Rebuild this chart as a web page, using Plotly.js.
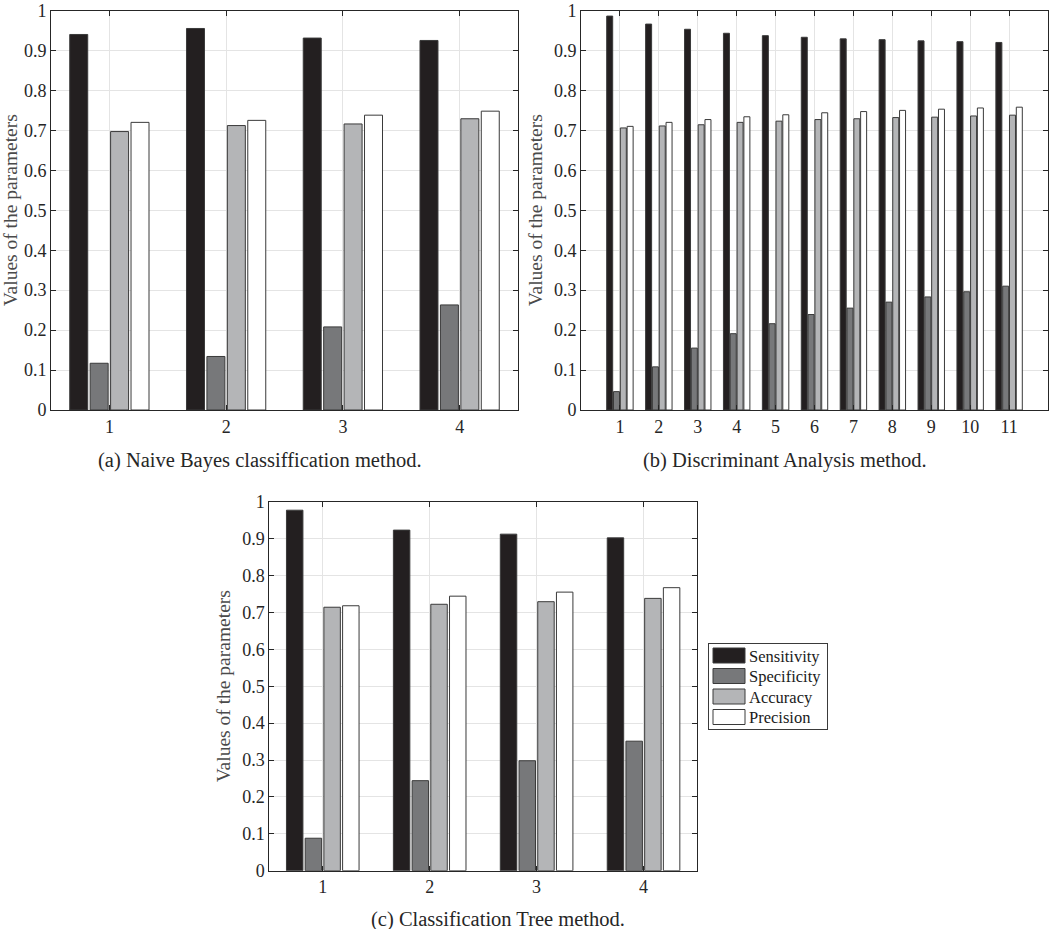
<!DOCTYPE html>
<html>
<head>
<meta charset="utf-8">
<script src="https://cdn.plot.ly/plotly-3.0.1.min.js"></script>
<style>
html,body{margin:0;padding:0;background:#fff;}
#chart{width:1050px;height:929px;}
</style>
</head>
<body>
<div id="chart"></div>
<script>
// ---- Data ----
var seriesNames = ["Sensitivity", "Specificity", "Accuracy", "Precision"];

var aX = [1, 2, 3, 4];
var aSens = [0.940, 0.955, 0.931, 0.925];
var aSpec = [0.117, 0.134, 0.208, 0.263];
var aAcc  = [0.697, 0.712, 0.716, 0.729];
var aPrec = [0.720, 0.725, 0.738, 0.748];

var bX = [1, 2, 3, 4, 5, 6, 7, 8, 9, 10, 11];
var bSens = [0.986, 0.966, 0.953, 0.943, 0.937, 0.933, 0.929, 0.927, 0.924, 0.922, 0.920];
var bSpec = [0.046, 0.108, 0.155, 0.191, 0.216, 0.239, 0.255, 0.270, 0.283, 0.296, 0.310];
var bAcc  = [0.706, 0.711, 0.714, 0.720, 0.723, 0.727, 0.729, 0.732, 0.733, 0.736, 0.738];
var bPrec = [0.710, 0.720, 0.727, 0.734, 0.739, 0.744, 0.747, 0.750, 0.753, 0.756, 0.758];

var cX = [1, 2, 3, 4];
var cSens = [0.977, 0.923, 0.912, 0.902];
var cSpec = [0.088, 0.244, 0.298, 0.351];
var cAcc  = [0.714, 0.722, 0.729, 0.738];
var cPrec = [0.718, 0.744, 0.755, 0.767];

var yTicks = [0, 0.1, 0.2, 0.3, 0.4, 0.5, 0.6, 0.7, 0.8, 0.9, 1];
var yTickText = ["0", "0.1", "0.2", "0.3", "0.4", "0.5", "0.6", "0.7", "0.8", "0.9", "1"];

var captions = ["(a) Naive Bayes classiffication method.",
                "(b) Discriminant Analysis method.",
                "(c) Classification Tree method."];
var yTitle = "Values of the parameters";

// ---- Styles ----
var fills = ["#231f20", "#77787a", "#b4b5b7", "#ffffff"];
var edge = "#3a3a3a";
var FONT = "Liberation Serif";

var traces = [];
function addPanel(x, sets, xa, ya, showLeg) {
  for (var i = 0; i < 4; i++) {
    traces.push({
      type: "bar", x: x, y: sets[i], name: seriesNames[i],
      xaxis: xa, yaxis: ya, showlegend: showLeg,
      marker: {color: fills[i], line: {color: edge, width: 1}},
      hoverinfo: "skip"
    });
  }
}
addPanel(aX, [aSens, aSpec, aAcc, aPrec], "x", "y", false);
addPanel(bX, [bSens, bSpec, bAcc, bPrec], "x2", "y2", false);
addPanel(cX, [cSens, cSpec, cAcc, cPrec], "x3", "y3", true);

function xAxis(domain, range, ticks, anchor) {
  return {
    domain: domain, range: range, anchor: anchor,
    tickmode: "array", tickvals: ticks, ticktext: ticks.map(String),
    ticks: "inside", ticklen: 5, tickcolor: "#262626", tickwidth: 1,
    showline: true, linecolor: "#262626", linewidth: 1, mirror: "ticks",
    showgrid: true, gridcolor: "#e4e4e4", gridwidth: 1,
    zeroline: false, ticklabeloverflow: "allow",
    tickfont: {family: FONT, size: 18, color: "#262626"},
    fixedrange: true
  };
}
function yAxis(domain, anchor) {
  return {
    domain: domain, range: [0, 1], anchor: anchor,
    tickmode: "array", tickvals: yTicks, ticktext: yTickText,
    ticks: "inside", ticklen: 5, tickcolor: "#262626", tickwidth: 1,
    showline: true, linecolor: "#262626", linewidth: 1, mirror: "ticks",
    showgrid: true, gridcolor: "#e4e4e4", gridwidth: 1,
    zeroline: false, ticklabeloverflow: "allow",
    tickfont: {family: FONT, size: 18, color: "#262626"},
    title: {text: yTitle, font: {family: FONT, size: 19.5, color: "#4a4a4a"}, standoff: 6},
    fixedrange: true
  };
}

var layout = {
  width: 1050, height: 929,
  margin: {l: 0, r: 0, t: 0, b: 0},
  paper_bgcolor: "#ffffff", plot_bgcolor: "#ffffff",
  barmode: "group", bargap: 0.3, bargroupgap: 0.12,
  font: {family: FONT, color: "#262626"},
  xaxis: xAxis([51/1050, 518/1050], [0.5, 4.5], aX, "y"),
  yaxis: yAxis([1 - 410/929, 1 - 10.5/929], "x"),
  xaxis2: xAxis([581/1050, 1048/1050], [0, 12], bX, "y2"),
  yaxis2: yAxis([1 - 410/929, 1 - 10.5/929], "x2"),
  xaxis3: xAxis([269.3/1050, 697/1050], [0.5, 4.5], cX, "y3"),
  yaxis3: yAxis([1 - 870.7/929, 1 - 501.7/929], "x3"),
  showlegend: true,
  legend: {
    x: 708/1050, y: 1 - 643/929, xanchor: "left", yanchor: "top",
    bgcolor: "#ffffff", bordercolor: "#3a3a3a", borderwidth: 1,
    font: {family: FONT, size: 16.5, color: "#1a1a1a"},
    tracegroupgap: 0, itemwidth: 30
  },
  annotations: [
    {text: captions[0], xref: "paper", yref: "paper", x: 259.5/1050, y: 1 - 460/929,
     xanchor: "center", yanchor: "middle", showarrow: false,
     font: {family: FONT, size: 20.5, color: "#262626"}},
    {text: captions[1], xref: "paper", yref: "paper", x: 785/1050, y: 1 - 460/929,
     xanchor: "center", yanchor: "middle", showarrow: false,
     font: {family: FONT, size: 20.5, color: "#262626"}},
    {text: captions[2], xref: "paper", yref: "paper", x: 498/1050, y: 1 - 919/929,
     xanchor: "center", yanchor: "middle", showarrow: false,
     font: {family: FONT, size: 20.5, color: "#262626"}}
  ]
};

function fixLegend() {
  var gd = document.getElementById("chart");
  gd.querySelectorAll(".legend .legendpoints path").forEach(function (p) {
    p.setAttribute("d", "M16,7.5H-16V-7.5H16Z");
  });
  var items = gd.querySelectorAll(".legend .traces");
  var step = 20.5, y0 = 12.5;
  items.forEach(function (g, i) {
    var t = g.getAttribute("transform") || "";
    var m = /translate\(\s*([-\d.eE]+)[,\s]+([-\d.eE]+)\s*\)/.exec(t);
    var x = m ? m[1] : 0;
    g.setAttribute("transform", "translate(" + x + "," + (y0 + i * step) + ")");
  });
  var bg = gd.querySelector(".legend rect.bg");
  if (bg) bg.setAttribute("height", 86);
}

Plotly.newPlot("chart", traces, layout, {displayModeBar: false, staticPlot: true}).then(function (gd) {
  fixLegend();
  gd.on && gd.on("plotly_afterplot", fixLegend);
  setTimeout(fixLegend, 0);
  setTimeout(fixLegend, 100);
});
</script>
</body>
</html>
